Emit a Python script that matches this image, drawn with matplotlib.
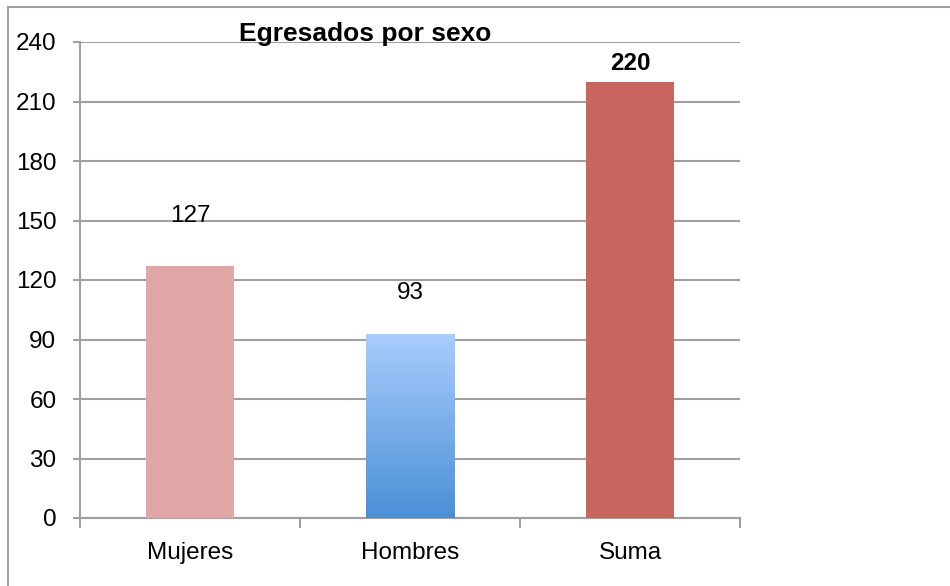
import numpy as np
import matplotlib
matplotlib.use('Agg')
import matplotlib.pyplot as plt
from matplotlib.lines import Line2D

# Data
categories = ['Mujeres', 'Hombres', 'Suma']
values = [127, 93, 220]
label_bold = [False, False, True]
yticks = [0, 30, 60, 90, 120, 150, 180, 210, 240]

# Style
colors = ['#E0A7A6', None, '#C9655F']
label_offsets = [28, 21, 5]  # points above bar top
grid_color = '#A0A0A0'
fs = 17.5

plt.rcParams['font.family'] = ['Liberation Sans', 'DejaVu Sans']

fig = plt.figure(figsize=(9.5, 5.86), dpi=100)
ax = fig.add_axes([80 / 950, 1 - 518 / 586, 660 / 950, 476 / 586])

x = np.arange(len(categories))
width = 0.4
bars = ax.bar(x, values, width=width, color=[c if c else 'none' for c in colors],
              zorder=3, linewidth=0)

# gradient fill for Hombres
grad = np.linspace(0, 1, 256).reshape(-1, 1)
cmap = matplotlib.colors.LinearSegmentedColormap.from_list('g', ['#4A8FD6', '#A9CDFD'])
b = bars[1]
im = ax.imshow(grad, cmap=cmap, origin='lower', aspect='auto',
               extent=[b.get_x(), b.get_x() + b.get_width(), 0, b.get_height()], zorder=3)
im.set_clip_path(b)

ax.set_xlim(-0.5, len(categories) - 0.5)
ax.set_ylim(0, 240)
ax.set_yticks(yticks)
ax.set_yticklabels([str(t) for t in yticks], fontsize=fs)
ax.yaxis.grid(True, color=grid_color, linewidth=1.5, zorder=0)
ax.set_axisbelow(True)

ax.set_xticks([-0.5, 0.5, 1.5, 2.5])
ax.set_xticklabels([])
ax.set_xticks(x, minor=True)
ax.set_xticklabels(categories, minor=True, fontsize=fs)
ax.tick_params(axis='x', which='minor', length=0, pad=17)
ax.tick_params(axis='x', which='major', length=7, width=1.5, color=grid_color)
ax.tick_params(axis='y', length=5, width=1.5, color=grid_color, pad=12)

for s in ['top', 'right']:
    ax.spines[s].set_visible(False)
for s in ['left', 'bottom']:
    ax.spines[s].set_color(grid_color)
    ax.spines[s].set_linewidth(1.5)

for xi, v, bold, off in zip(x, values, label_bold, label_offsets):
    ax.annotate(str(v), (xi, v), xytext=(0, off), textcoords='offset points',
                ha='center', va='bottom', fontsize=fs,
                fontweight='bold' if bold else 'normal')

fig.text(365 / 950, 1 - 34 / 586, 'Egresados por sexo', ha='center', va='center',
         fontsize=19, fontweight='bold')

# outer frame (top and left)
fig.add_artist(Line2D([8 / 950, 8 / 950], [0, 1 - 7 / 586], transform=fig.transFigure,
                      color=grid_color, linewidth=1.5))
fig.add_artist(Line2D([8 / 950, 1], [1 - 7 / 586, 1 - 7 / 586], transform=fig.transFigure,
                      color=grid_color, linewidth=1.5))

fig.savefig('out.png', dpi=100)
